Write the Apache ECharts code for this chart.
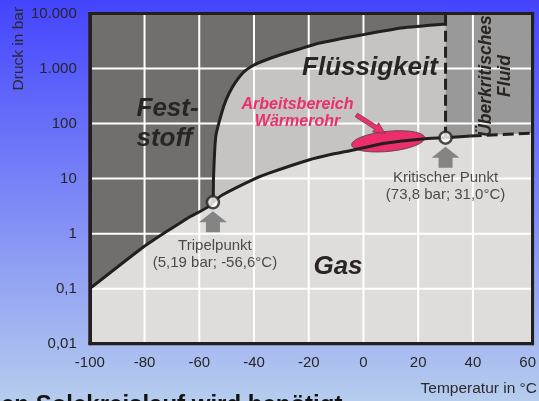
<!DOCTYPE html>
<html><head><meta charset="utf-8">
<script src="https://cdn.jsdelivr.net/npm/echarts@6/dist/echarts.min.js"></script>
<style>html,body{margin:0;padding:0;background:#fff;}#c{width:539px;height:401px;}</style>
</head><body><div id="c"></div>
<script>
// ---------- data ----------
const xTicks = [-100, -80, -60, -40, -20, 0, 20, 40, 60];
const yTickLabels = ['0,01', '0,1', '1', '10', '100', '1.000', '10.000']; // 10^-2 .. 10^4
const gridX = [-80, -60, -40, -20, 0, 20, 40];
const gridY = [0.1, 1, 10, 100, 1000];

const sublimationCurve = [[-100, 0.1], [-80.3, 0.578], [-72.1, 1.08], [-63.6, 2.0], [-55, 3.7]];
const meltingCurve = [[-55, 3.7], [-54.8, 10], [-54.4, 30], [-53.9, 62], [-52.7, 108], [-50.9, 217], [-49.1, 355],
  [-46.6, 576], [-43.6, 875], [-40, 1159], [-35.7, 1429], [-29.7, 1814], [-23.6, 2236], [-16.4, 2873],
  [-0.8, 4066], [13.8, 5452], [30, 6450]];
const vaporCurve = [[-55, 3.7], [-51.6, 5.03], [-39.4, 10.1], [-34.5, 12.6], [-20, 21.8], [-12.8, 26.8],
  [-3.7, 33.1], [7.8, 43.8], [22.4, 53.1], [30, 55.3]];
const supercriticalSolid = [[30, 55.3], [39.2, 59.4]];
const supercriticalDashed = [[39.2, 59.4], [61.8, 67.2]];
const criticalIsotherm = [[30, 55.3], [30, 10000]];
const triplePoint = [-55, 3.7];
const criticalPoint = [30, 55.3];
const pointLabels = ['Tripelpunkt\n(5,19 bar; -56,6°C)', 'Kritischer Punkt\n(73,8 bar; 31,0°C)'];
const workingRange = [[-4.3, 40.8], [22.4, 55.3]];
const workingArrow = [[-2.6, 143], [7.85, 66.5]];

const X_MIN = -100, X_MAX = 61.8, Y_MIN = 0.01, Y_MAX = 10000;

// ---------- styles ----------
const FRAME = '#231f1c';
const FONT = "'Liberation Sans', Arial, sans-serif";
const PINK = '#ec2e6c';

const chart = echarts.init(document.getElementById('c'), null, {renderer: 'canvas'});

function areaSeries(data, color) {
  return {type: 'line', data: data, z: 1, silent: true, symbol: 'none', smooth: 0.2,
    lineStyle: {width: 0, opacity: 0}, areaStyle: {color: color, opacity: 1, origin: 'end'}};
}
function curveSeries(data, dashed, smooth) {
  return {type: 'line', data: data, z: 4, silent: true, symbol: 'none', smooth: smooth ? 0.2 : false,
    lineStyle: {width: 3, color: FRAME, type: dashed ? [11, 5] : 'solid', cap: 'butt'}};
}

const borderAxisLine = {show: true, onZero: false, lineStyle: {color: FRAME, width: 3}};

const option = {
  animation: false,
  backgroundColor: {type: 'linear', x: 0, y: 0, x2: 0, y2: 1,
    colorStops: [{offset: 0, color: '#4444fe'}, {offset: 1, color: '#b6cdee'}]},
  textStyle: {fontFamily: FONT},
  grid: {left: 89.8, right: 3.7, top: 13.5, bottom: 57.3, show: true, backgroundColor: '#dedddc',
    borderColor: FRAME, borderWidth: 3},
  xAxis: [
    {type: 'value', min: X_MIN, max: X_MAX, interval: 20, position: 'bottom', z: 3,
      axisLine: borderAxisLine, axisTick: {show: false}, splitLine: {show: false},
      axisLabel: {show: true, margin: 12, fontSize: 15, color: '#262626', fontFamily: FONT,
        showMaxLabel: false, showMinLabel: true,
        formatter: v => (xTicks.indexOf(v) >= 0 ? String(v) : '')}},
    {type: 'value', min: X_MIN, max: X_MAX, position: 'top', z: 3,
      axisLine: borderAxisLine, axisTick: {show: false}, axisLabel: {show: false}, splitLine: {show: false}}
  ],
  yAxis: [
    {type: 'log', logBase: 10, min: Y_MIN, max: Y_MAX, position: 'left', z: 3,
      axisLine: borderAxisLine, axisTick: {show: false}, splitLine: {show: false},
      axisLabel: {show: true, margin: 13, fontSize: 15, color: '#262626', fontFamily: FONT, padding: [4, 0, 0, 0],
        formatter: v => yTickLabels[Math.round(Math.log10(v)) + 2]}},
    {type: 'log', logBase: 10, min: Y_MIN, max: Y_MAX, position: 'right', z: 3,
      axisLine: borderAxisLine, axisTick: {show: false}, axisLabel: {show: false}, splitLine: {show: false}}
  ],
  series: [
    // regions
    areaSeries(vaporCurve, '#c5c4c3'),
    areaSeries(sublimationCurve.concat(meltingCurve.slice(1)), '#706f6d'),
    areaSeries(supercriticalSolid.concat(supercriticalDashed.slice(1)), '#9a9999'),
    // grid lines
    {type: 'custom', z: 2, silent: true, data: gridX.map(v => [v, Y_MIN]), encode: {x: 0, y: 1},
      renderItem: (params, api) => {
        const p = api.coord([api.value(0), api.value(1)]);
        const cs = params.coordSys;
        return {type: 'line', shape: {x1: p[0], y1: cs.y, x2: p[0], y2: cs.y + cs.height},
          style: {stroke: '#ffffff', lineWidth: 2}};
      }},
    {type: 'custom', z: 2, silent: true, data: gridY.map(v => [X_MIN, v]), encode: {x: 0, y: 1},
      renderItem: (params, api) => {
        const p = api.coord([api.value(0), api.value(1)]);
        const cs = params.coordSys;
        return {type: 'line', shape: {x1: cs.x, y1: p[1], x2: cs.x + cs.width, y2: p[1]},
          style: {stroke: '#ffffff', lineWidth: 2}};
      }},
    // working range ellipse
    {type: 'custom', z: 3, silent: true,
      data: [[workingRange[0][0], workingRange[0][1], workingRange[1][0], workingRange[1][1]]],
      encode: {x: [0, 2], y: [1, 3]},
      renderItem: (params, api) => {
        const a = api.coord([api.value(0), api.value(1)]);
        const b = api.coord([api.value(2), api.value(3)]);
        const cx = (a[0] + b[0]) / 2, cy = (a[1] + b[1]) / 2;
        const dx = b[0] - a[0], dy = b[1] - a[1];
        const ra = Math.hypot(dx, dy) / 2, rb = 10, ang = Math.atan2(dy, dx);
        const pts = [];
        for (let i = 0; i < 90; i++) {
          const t = i / 90 * 2 * Math.PI;
          const ex = ra * Math.cos(t), ey = rb * Math.sin(t);
          pts.push([cx + ex * Math.cos(ang) - ey * Math.sin(ang), cy + ex * Math.sin(ang) + ey * Math.cos(ang)]);
        }
        return {type: 'polygon', shape: {points: pts}, style: {fill: PINK, stroke: '#5e4a4e', lineWidth: 1}};
      }},
    // pink arrow
    {type: 'custom', z: 3, silent: true,
      data: [[workingArrow[0][0], workingArrow[0][1], workingArrow[1][0], workingArrow[1][1]]],
      encode: {x: [0, 2], y: [1, 3]},
      renderItem: (params, api) => {
        const a = api.coord([api.value(0), api.value(1)]);
        const b = api.coord([api.value(2), api.value(3)]);
        const dx = b[0] - a[0], dy = b[1] - a[1];
        const len = Math.hypot(dx, dy);
        const ux = dx / len, uy = dy / len, nx = -uy, ny = ux;
        const sw = 2.2, hw = 5.5, hl = 11;
        const bx = b[0] - ux * hl, by = b[1] - uy * hl;
        const pts = [
          [a[0] + nx * sw, a[1] + ny * sw], [bx + nx * sw, by + ny * sw], [bx + nx * hw, by + ny * hw],
          [b[0], b[1]],
          [bx - nx * hw, by - ny * hw], [bx - nx * sw, by - ny * sw], [a[0] - nx * sw, a[1] - ny * sw]
        ];
        return {type: 'polygon', shape: {points: pts}, style: {fill: PINK, stroke: '#6a3c4a', lineWidth: 0.8}};
      }},
    // curves
    curveSeries(sublimationCurve.concat(meltingCurve.slice(1)), false, true),
    curveSeries(vaporCurve, false, true),
    curveSeries(supercriticalSolid, false, false),
    curveSeries(supercriticalDashed, true, false),
    curveSeries(criticalIsotherm, true, false),
    // grey arrows under the points
    {type: 'scatter', z: 5, silent: true, symbol: 'path://M14,0 L28,11 L21,11 L21,21 L7,21 L7,11 L0,11 Z',
      symbolSize: [28, 21], symbolOffset: [0, 19.5], itemStyle: {color: '#6e6e6e'},
      data: [triplePoint, criticalPoint]},
    // triple & critical points
    {type: 'scatter', z: 6, silent: true, symbol: 'circle', symbolSize: 12,
      itemStyle: {color: '#ffffff', borderColor: FRAME, borderWidth: 2.5},
      label: {show: true, position: 'bottom', color: '#262626', fontSize: 15, lineHeight: 17.5,
        fontFamily: FONT, align: 'center'},
      data: [
        {value: triplePoint, label: {formatter: pointLabels[0], distance: 27, offset: [2, 0]}},
        {value: criticalPoint, label: {formatter: pointLabels[1], distance: 24}}
      ]}
  ],
  graphic: [
    {type: 'text', z: 100, x: 18.3, y: 48.7, rotation: Math.PI / 2,
      style: {text: 'Druck in bar', fill: '#2a2a2a', fontSize: 15.5, fontFamily: FONT,
        align: 'center', verticalAlign: 'middle'}},
    {type: 'text', z: 100, x: 537, y: 388.5,
      style: {text: 'Temperatur in °C', fill: '#2a2a2a', fontSize: 15.5, fontFamily: FONT,
        align: 'right', verticalAlign: 'middle'}},
    {type: 'text', z: 100, x: 136.5, y: 123.5,
      style: {text: 'Fest-\nstoff', fill: '#2a2522', fontSize: 26, fontWeight: 'bold', fontStyle: 'italic',
        fontFamily: FONT, lineHeight: 30, align: 'left', verticalAlign: 'middle'}},
    {type: 'text', z: 100, x: 370, y: 68,
      style: {text: 'Flüssigkeit', fill: '#2a2522', fontSize: 26, fontWeight: 'bold', fontStyle: 'italic',
        fontFamily: FONT, align: 'center', verticalAlign: 'middle'}},
    {type: 'text', z: 100, x: 338, y: 267,
      style: {text: 'Gas', fill: '#2a2522', fontSize: 26, fontWeight: 'bold', fontStyle: 'italic',
        fontFamily: FONT, align: 'center', verticalAlign: 'middle'}},
    {type: 'text', z: 100, x: 495.5, y: 76, rotation: Math.PI / 2,
      style: {text: 'Überkritisches\nFluid', fill: '#2a2522', fontSize: 17.5, fontWeight: 'bold',
        fontStyle: 'italic', fontFamily: FONT, lineHeight: 19, align: 'center', verticalAlign: 'middle'}},
    {type: 'text', z: 100, x: 297.5, y: 113,
      style: {text: 'Arbeitsbereich\nWärmerohr', fill: PINK, fontSize: 16, fontWeight: 'bold',
        fontStyle: 'italic', fontFamily: FONT, lineHeight: 17.7, align: 'center', verticalAlign: 'middle'}},
    {type: 'text', z: 100, x: 1, y: 405,
      style: {text: 'en Solekreislauf wird benötigt', fill: '#111111', fontSize: 24, fontWeight: 'bold',
        fontFamily: FONT, align: 'left', verticalAlign: 'middle'}}
  ]
};
chart.setOption(option);
</script>
</body></html>
